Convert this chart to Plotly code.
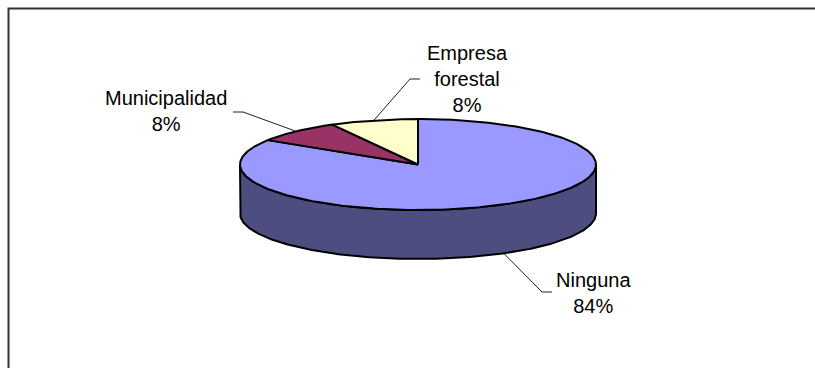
import numpy as np
import plotly.graph_objects as go

# Data
categories = ["Ninguna", "Municipalidad", "Empresa forestal"]
values = [84, 8, 8]
label_texts = ["Ninguna<br>84%", "Municipalidad<br>8%", "Empresa<br>forestal<br>8%"]

top_colors = ["#9999FF", "#993366", "#FFFFCC"]
side_colors = ["#4D4D80", "#4D1A33", "#808066"]

# Geometry (pixel space)
W, H = 815, 368
cx, cy = 418.0, 164.5
rx, ry = 178.0, 45.5
depth = 49.0

def pt(theta_deg, dy=0.0):
    t = np.radians(theta_deg)
    return cx + rx * np.sin(t), cy - ry * np.cos(t) + dy

total = float(sum(values))
angles = np.concatenate([[0.0], np.cumsum(values) / total * 360.0])

fig = go.Figure()

# Side walls (visible front part: 90..270 degrees)
for i in range(len(values)):
    a0, a1 = max(angles[i], 90.0), min(angles[i + 1], 270.0)
    if a1 <= a0:
        continue
    th = np.linspace(a0, a1, 200)
    xt, yt = pt(th)
    xb, yb = pt(th[::-1], depth)
    xs = np.concatenate([xt, xb, xt[:1]])
    ys = np.concatenate([yt, yb, yt[:1]])
    fig.add_trace(go.Scatter(x=xs, y=ys, mode="lines", fill="toself",
                             fillcolor=side_colors[i],
                             line=dict(color="black", width=2),
                             hoverinfo="skip"))

# Top faces
for i in range(len(values)):
    th = np.linspace(angles[i], angles[i + 1], 300)
    xa, ya = pt(th)
    xs = np.concatenate([[cx], xa, [cx]])
    ys = np.concatenate([[cy], ya, [cy]])
    fig.add_trace(go.Scatter(x=xs, y=ys, mode="lines", fill="toself",
                             fillcolor=top_colors[i],
                             line=dict(color="black", width=2),
                             hoverinfo="skip", name=categories[i]))

# Leader lines and labels
label_pos = {
    "Ninguna": (593, 293),
    "Municipalidad": (166, 111),
    "Empresa forestal": (467, 79),
}
elbows = {
    "Ninguna": [(552, 292), (542, 292)],
    "Municipalidad": [(233, 112), (243, 112)],
    "Empresa forestal": [(420, 79), (410, 79)],
}
for i, cat in enumerate(categories):
    mid = (angles[i] + angles[i + 1]) / 2.0
    dy = depth if 90 < mid < 270 else 0.0
    ex, ey = pt(mid, dy)
    (x0, y0), (x1, y1) = elbows[cat]
    fig.add_trace(go.Scatter(x=[x0, x1, ex], y=[y0, y1, ey], mode="lines",
                             line=dict(color="#222222", width=1),
                             hoverinfo="skip"))
    lx, ly = label_pos[cat]
    fig.add_annotation(x=lx, y=ly, xref="x", yref="y", text=label_texts[i],
                       showarrow=False, xanchor="center", yanchor="middle",
                       align="center",
                       font=dict(family="Liberation Sans, Arial, sans-serif",
                                 size=20, color="black"))

# Chart border
fig.add_shape(type="rect", xref="x", yref="y", x0=8.5, y0=8.5, x1=1000, y1=1000,
              line=dict(color="#333333", width=2), fillcolor="rgba(0,0,0,0)")

fig.update_layout(
    width=W, height=H,
    margin=dict(l=0, r=0, t=0, b=0),
    paper_bgcolor="white", plot_bgcolor="white",
    showlegend=False,
    xaxis=dict(range=[0, W], visible=False, fixedrange=True),
    yaxis=dict(range=[H, 0], visible=False, fixedrange=True),
)

fig.write_html("out.html")
